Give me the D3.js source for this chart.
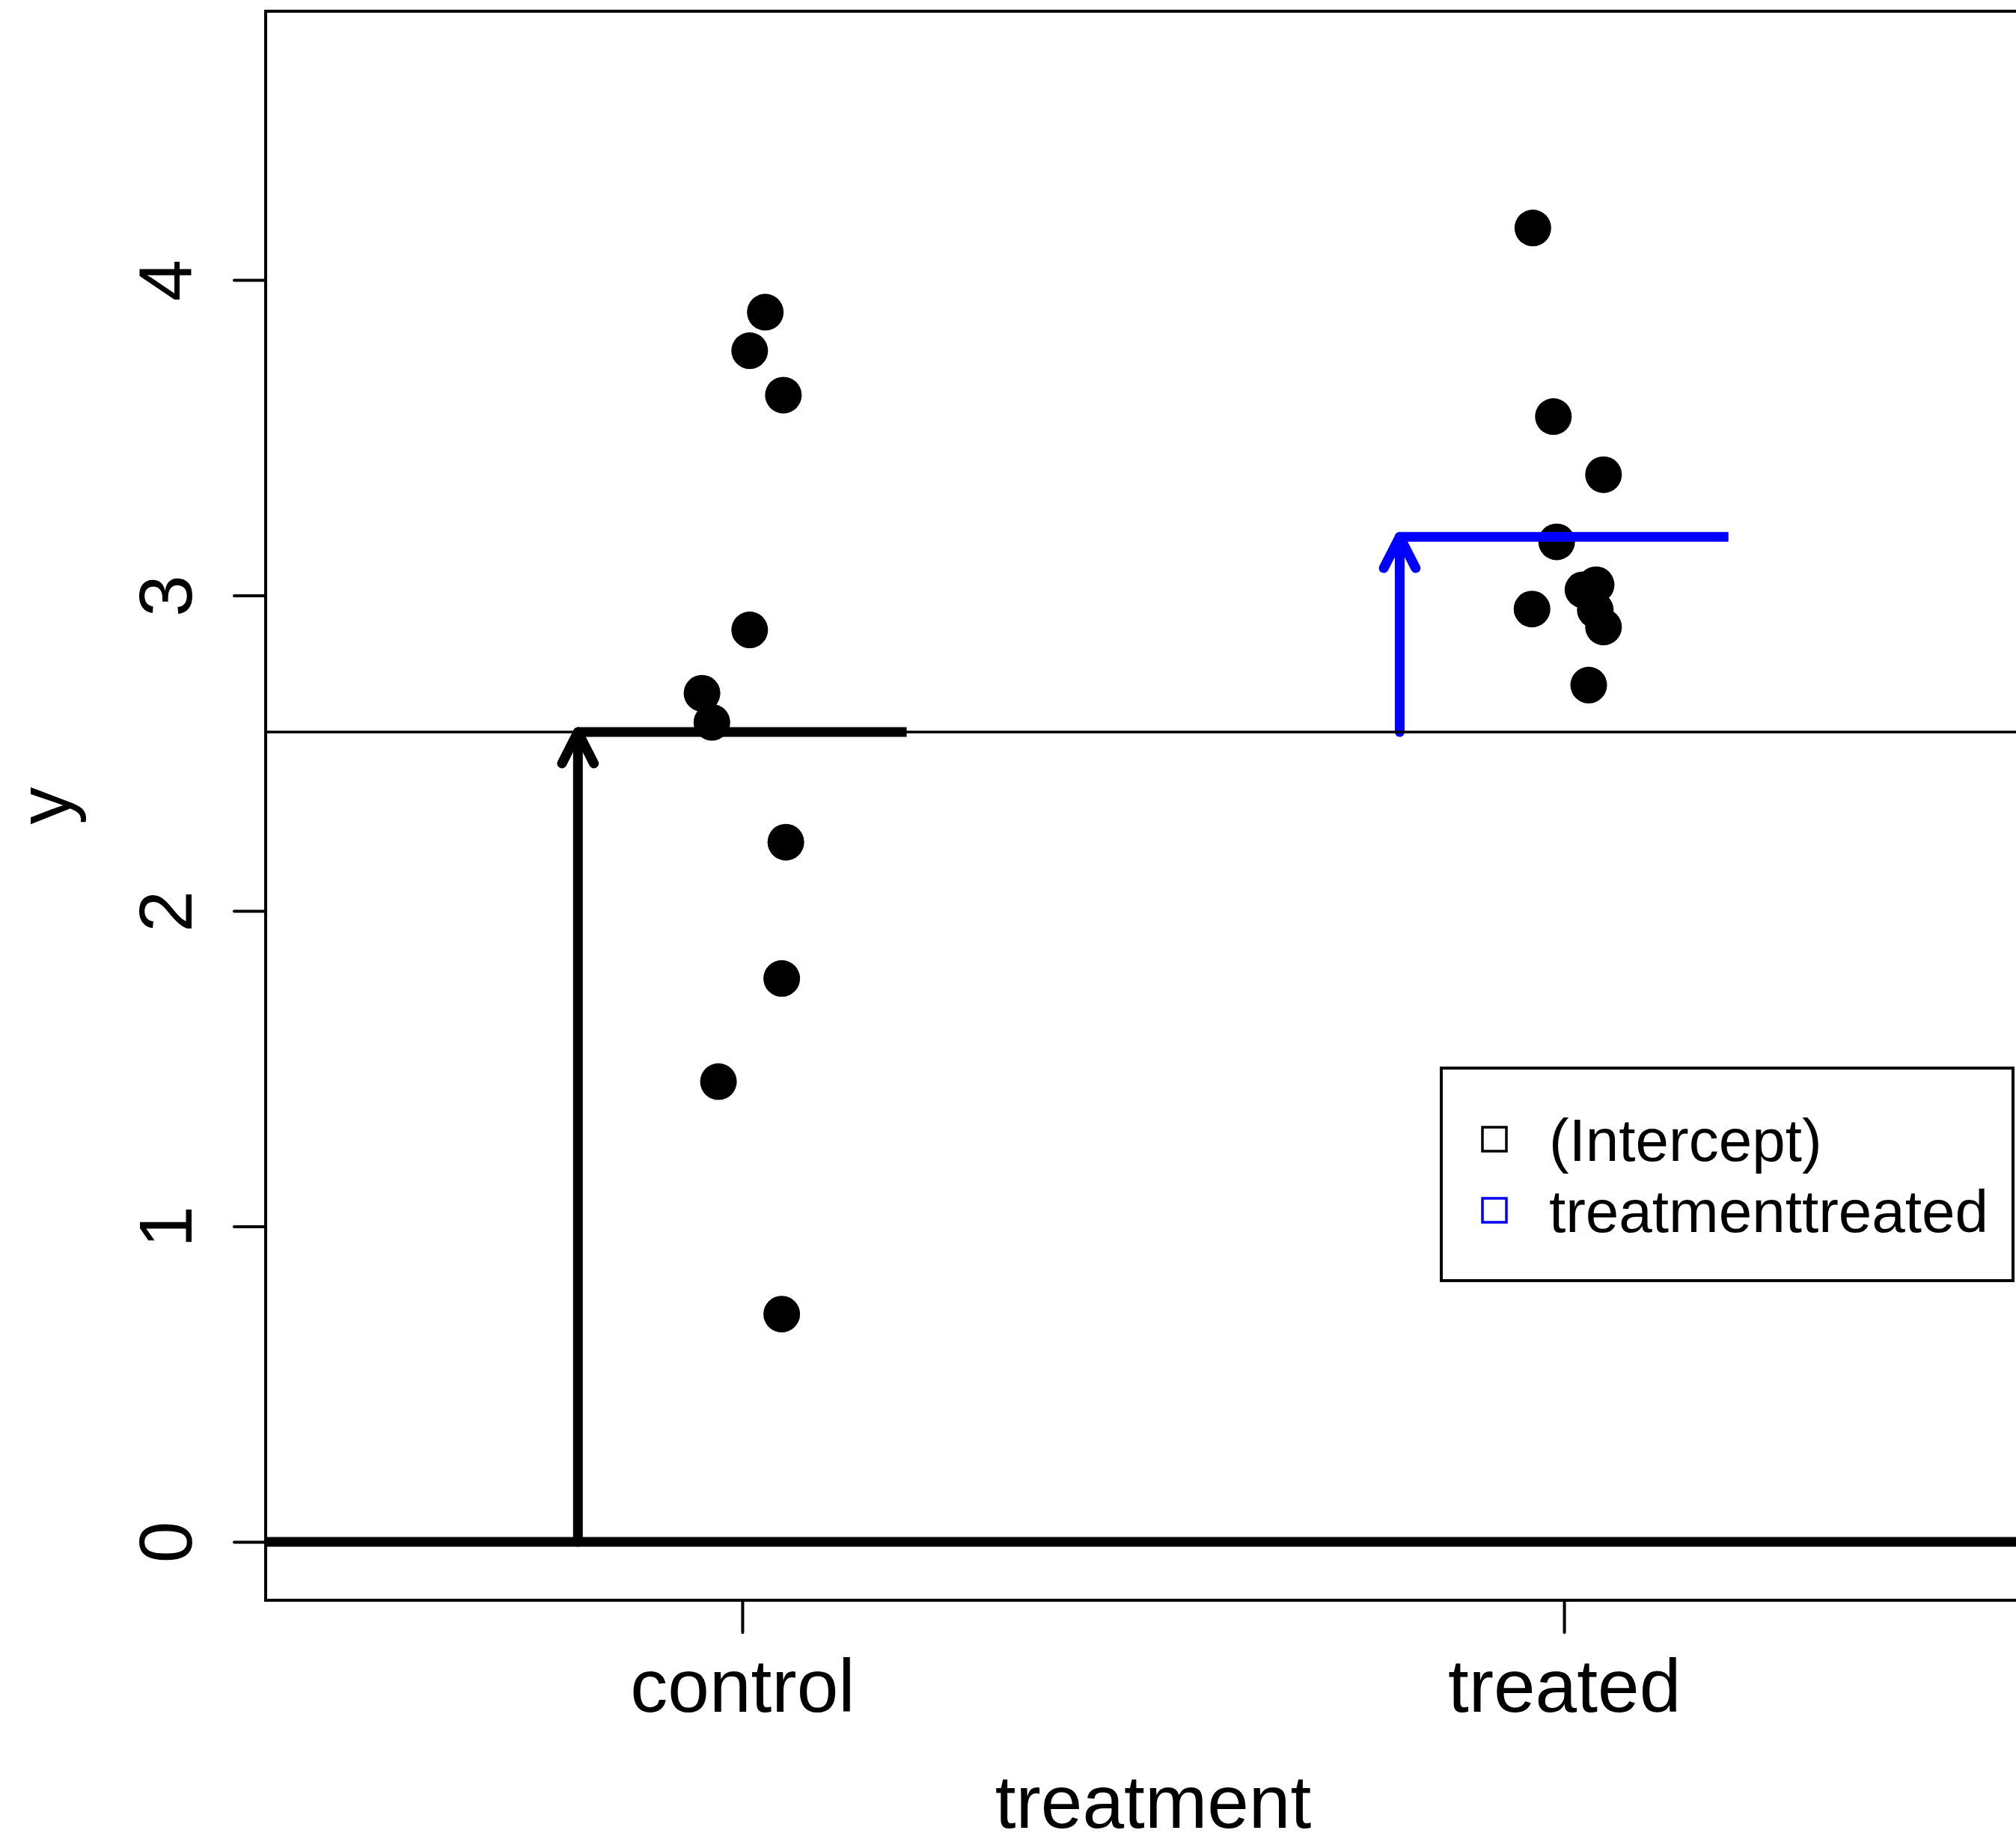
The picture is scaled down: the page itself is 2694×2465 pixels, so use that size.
<!DOCTYPE html>
<html>
<head>
<meta charset="utf-8">
<script src="https://cdn.jsdelivr.net/npm/d3@7"></script>
<style>
  html, body { margin: 0; padding: 0; background: #fff; }
  svg { display: block; }
  text { font-family: "Liberation Sans", Arial, Helvetica, sans-serif; fill: #000; }
</style>
</head>
<body>
<script>
// Group labels and positions on the x axis
const categories = ["control", "treated"];
const categoryPos = [1, 2];

// Observations (x includes horizontal jitter)
const controlX = [1.028, 1.009, 1.050, 1.009, 0.951, 0.963, 1.053, 1.048, 0.971, 1.048];
const controlY = [3.898, 3.776, 3.635, 2.891, 2.690, 2.598, 2.218, 1.786, 1.459, 0.722];
const treatedX = [1.962, 1.987, 2.048, 1.991, 2.039, 2.023, 2.038, 2.048, 1.961, 2.030];
const treatedY = [4.165, 3.567, 3.383, 3.170, 3.034, 3.018, 2.954, 2.900, 2.957, 2.716];

// Model coefficients
const coefNames = ["(Intercept)", "treatmenttreated"];
const coefColors = ["#000000", "#0000ff"];
const intercept = 2.567;
const effect = 0.619;

// Axis ticks
const yTicks = [0, 1, 2, 3, 4];

const W = 2694, H = 2465;
const svg = d3.select("body").append("svg").attr("width", W).attr("height", H);

const x = d3.scaleLinear().domain([0.42, 2.58]).range([355, 2727]);
const y = d3.scaleLinear().domain([-0.185, 4.852]).range([2138, 15]);

const [x0, x1] = x.range();
const [yb, yt] = y.range();

svg.append("defs").append("clipPath").attr("id", "plotclip")
  .append("rect").attr("x", x0).attr("y", yt).attr("width", x1 - x0).attr("height", yb - yt);

// y axis
const yAxis = svg.append("g").attr("transform", `translate(${x0},0)`)
  .call(d3.axisLeft(y).tickValues(yTicks).tickSize(42).tickFormat(""));
yAxis.select(".domain").remove();
yAxis.selectAll(".tick line").attr("stroke", "#000").attr("stroke-width", 4).attr("stroke-linecap", "round");
yAxis.selectAll(".tick").append("text")
  .attr("transform", "translate(-99,0) rotate(-90)")
  .attr("text-anchor", "middle")
  .attr("font-size", 100)
  .style("fill", "#000")
  .text(d => d);

// x axis
const xAxis = svg.append("g").attr("transform", `translate(0,${yb})`)
  .call(d3.axisBottom(x).tickValues(categoryPos).tickSize(43).tickFormat(""));
xAxis.select(".domain").remove();
xAxis.selectAll(".tick line").attr("stroke", "#000").attr("stroke-width", 4).attr("stroke-linecap", "round");
xAxis.selectAll(".tick").append("text")
  .attr("y", 149)
  .attr("text-anchor", "middle")
  .attr("font-size", 100)
  .style("fill", "#000")
  .text((d, i) => categories[i]);

// axis titles
svg.append("text")
  .attr("x", (x0 + x1) / 2).attr("y", 2442)
  .attr("text-anchor", "middle").attr("font-size", 100)
  .text("treatment");
svg.append("text")
  .attr("transform", `translate(94,${(yb + yt) / 2}) rotate(-90)`)
  .attr("text-anchor", "middle").attr("font-size", 100)
  .text("y");

const plot = svg.append("g").attr("clip-path", "url(#plotclip)");

// data points
const pts = controlX.map((v, i) => ({ x: v, y: controlY[i] }))
  .concat(treatedX.map((v, i) => ({ x: v, y: treatedY[i] })));
plot.selectAll("circle.pt").data(pts).enter().append("circle")
  .attr("class", "pt")
  .attr("cx", d => x(d.x)).attr("cy", d => y(d.y)).attr("r", 24.5)
  .attr("fill", "#000");

// baseline at zero
plot.append("line")
  .attr("x1", x0).attr("x2", x1).attr("y1", y(0)).attr("y2", y(0))
  .attr("stroke", "#000").attr("stroke-width", 13);

// arrow helper: shaft with an open head
const headLen = 47, headAng = 27 * Math.PI / 180;
function arrow(xv, yFrom, yTo, color) {
  const xp = x(xv), ya = y(yFrom), yb2 = y(yTo);
  plot.append("line")
    .attr("x1", xp).attr("x2", xp).attr("y1", ya).attr("y2", yb2)
    .attr("stroke", color).attr("stroke-width", 13).attr("stroke-linecap", "round");
  const dx = headLen * Math.sin(headAng), dy = headLen * Math.cos(headAng);
  plot.append("path")
    .attr("d", `M${xp - dx},${yb2 + dy}L${xp},${yb2}L${xp + dx},${yb2 + dy}`)
    .attr("fill", "none").attr("stroke", color).attr("stroke-width", 13)
    .attr("stroke-linecap", "round").attr("stroke-linejoin", "round");
}
function segment(xa, xb, yv, color) {
  plot.append("line")
    .attr("x1", x(xa)).attr("x2", x(xb)).attr("y1", y(yv)).attr("y2", y(yv))
    .attr("stroke", color).attr("stroke-width", 13).attr("stroke-linecap", "butt");
}

// intercept: arrow from 0 up to the control mean, then the mean level
arrow(0.8, 0, intercept, coefColors[0]);
segment(0.8, 1.2, intercept, coefColors[0]);

// treatment effect: arrow from the intercept to the treated mean
arrow(1.8, intercept, intercept + effect, coefColors[1]);
segment(1.8, 2.2, intercept + effect, coefColors[1]);

// reference line at the intercept
plot.append("line")
  .attr("x1", x0).attr("x2", x1).attr("y1", y(intercept)).attr("y2", y(intercept))
  .attr("stroke", "#000").attr("stroke-width", 3.5);

// plot frame
svg.append("rect")
  .attr("x", x0).attr("y", yt).attr("width", x1 - x0).attr("height", yb - yt)
  .attr("fill", "none").attr("stroke", "#000").attr("stroke-width", 4);

// legend
const lg = svg.append("g");
lg.append("rect")
  .attr("x", 1926).attr("y", 1427).attr("width", 764).attr("height", 284)
  .attr("fill", "#fff").attr("stroke", "#000").attr("stroke-width", 4);
const rows = lg.selectAll("g.row").data(coefNames).enter().append("g")
  .attr("class", "row")
  .attr("transform", (d, i) => `translate(0,${1522 + i * 95})`);
rows.append("rect")
  .attr("x", 1981).attr("y", -16).attr("width", 32).attr("height", 32)
  .attr("fill", "none").attr("stroke", (d, i) => coefColors[i]).attr("stroke-width", 3.5);
rows.append("text")
  .attr("x", 2070).attr("y", 29)
  .attr("font-size", 80)
  .text(d => d);
</script>
</body>
</html>
